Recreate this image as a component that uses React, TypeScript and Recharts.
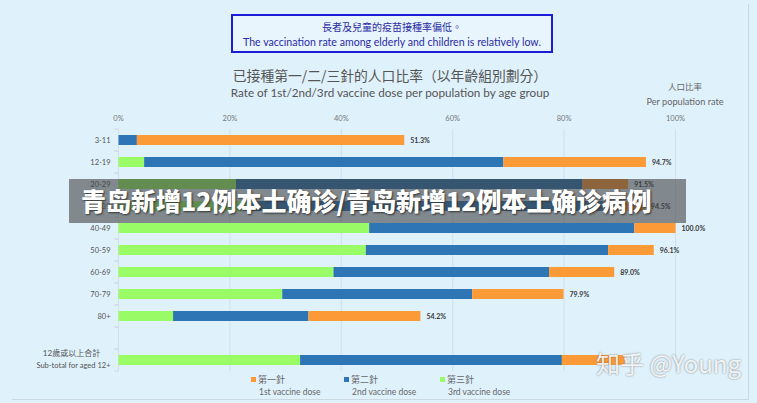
import React from 'react';
import {
  BarChart,
  Bar,
  XAxis,
  YAxis,
  CartesianGrid,
  LabelList
} from 'recharts';

const ageGroups = ['3-11', '12-19', '20-29', '30-39', '40-49', '50-59', '60-69', '70-79', '80+', ' ', 'subtotal'];
const firstDose = [51.3, 94.7, 91.5, 94.5, 100.0, 96.1, 89.0, 79.9, 54.2, null, 90.9];
const secondDose = [3.3, 69.1, 83.3, 87.0, 92.6, 87.9, 77.3, 63.5, 34.1, null, 79.6];
const thirdDose = [0, 4.6, 21.1, 24.0, 45.0, 44.4, 38.6, 29.4, 9.8, null, 32.6];
const xTicks = [0, 20, 40, 60, 80, 100];

const ORANGE = '#fd9a38';
const BLUE = '#2e75b6';
const GREEN = '#99fb66';
const BG = '#dff1fb';

// stacked segments: 3rd dose, then 2nd minus 3rd, then 1st minus 2nd
const rows = ageGroups.map((age, i) => {
  const f = firstDose[i];
  const s = secondDose[i];
  const t = thirdDose[i];
  if (f == null || s == null || t == null) {
    return { age, third: null, second: null, first: null, total: null };
  }
  return {
    age,
    third: t,
    second: +(s - t).toFixed(1),
    first: +(f - s).toFixed(1),
    total: f
  };
});

const AgeTick = (props: any) => {
  const { x, y, payload } = props;
  const axisX = x + 8;
  const marks = (
    <g>
      <line x1={axisX - 4} x2={axisX} y1={y - 11} y2={y - 11} stroke="#cfd8de" />
      <line x1={axisX - 4} x2={axisX} y1={y + 11} y2={y + 11} stroke="#cfd8de" />
    </g>
  );
  if (payload.value === 'subtotal') {
    return (
      <g>
        {marks}
        <text x={x - 39} y={y - 4} textAnchor="middle" fontSize={8} fill="#555" fontFamily="Lato, 'Noto Sans CJK TC', sans-serif">
          12歲或以上合計
        </text>
        <text x={x} y={y + 8} textAnchor="end" fontSize={7.5} fill="#555" fontFamily="Lato, sans-serif">
          Sub-total for aged 12+
        </text>
      </g>
    );
  }
  return (
    <g>
      {marks}
      <text x={x} y={y} dy={3} textAnchor="end" fontSize={7.5} fill="#555" fontFamily="Lato, sans-serif">
        {payload.value}
      </text>
    </g>
  );
};

const TotalLabel = (props: any) => {
  const { x, y, width, height, index } = props;
  const v = rows[index]?.total;
  if (v == null) return null;
  return (
    <text
      x={x + width + 6}
      y={y + height / 2}
      dy={2.5}
      fontSize={7}
      fontWeight={700}
      fill="#3a3a3a"
      fontFamily="Lato, sans-serif"
    >
      {v.toFixed(1)}%
    </text>
  );
};

const legendItems = [
  { color: ORANGE, zh: '第一針', en: '1st vaccine dose', x: 251 },
  { color: BLUE, zh: '第二針', en: '2nd vaccine dose', x: 344 },
  { color: GREEN, zh: '第三針', en: '3rd vaccine dose', x: 440 }
];

const abs = (style: React.CSSProperties): React.CSSProperties => ({ position: 'absolute', ...style });

const App: React.FC = () => {
  return (
    <div
      style={{
        position: 'absolute',
        left: 0,
        top: 0,
        width: 757,
        height: 403,
        background: BG,
        overflow: 'hidden',
        fontFamily: "Lato, 'Noto Sans CJK TC', sans-serif"
      }}
    >
      <div style={abs({ left: 12, top: 4, width: 736, height: 395, borderRight: '1px solid #cdd9e0', borderBottom: '1px solid #cdd9e0' })} />

      <BarChart
        width={757}
        height={403}
        data={rows}
        layout="vertical"
        barSize={10}
        margin={{ top: 99, right: 81.5, left: 0, bottom: 32 }}
        style={{ position: 'absolute', left: 0, top: 0 }}
      >
        <CartesianGrid vertical horizontal={false} stroke="#d3dfe6" />
        <XAxis
          type="number"
          orientation="top"
          domain={[0, 100]}
          ticks={xTicks}
          tickFormatter={(v: number) => `${v}%`}
          axisLine={false}
          tickLine={false}
          height={30}
          tick={{ fontSize: 7.5, fill: '#777', fontFamily: 'Lato, sans-serif' }}
        />
        <YAxis
          type="category"
          dataKey="age"
          width={118.5}
          axisLine={false}
          tickLine={false}
          interval={0}
          tick={<AgeTick />}
        />
        <Bar dataKey="third" stackId="a" fill={GREEN} isAnimationActive={false} />
        <Bar dataKey="second" stackId="a" fill={BLUE} isAnimationActive={false} />
        <Bar dataKey="first" stackId="a" fill={ORANGE} isAnimationActive={false}>
          <LabelList dataKey="total" content={<TotalLabel />} />
        </Bar>
      </BarChart>

      {/* headline box */}
      <div
        style={abs({
          left: 231,
          top: 14,
          width: 318,
          height: 35,
          border: '2px solid #1c1cd8',
          background: '#e8f5fd',
          textAlign: 'center',
          color: '#2b2ba6'
        })}
      >
        <div style={{ fontSize: 10, lineHeight: '13px', marginTop: 4, fontFamily: "'Noto Sans CJK TC', sans-serif" }}>
          長者及兒童的疫苗接種率偏低。
        </div>
        <div style={{ fontSize: 10.6, lineHeight: '14px', marginTop: 2 }}>
          The vaccination rate among elderly and children is relatively low.
        </div>
      </div>

      <div style={abs({ left: 160, width: 460, top: 66, textAlign: 'center', fontSize: 13.8, lineHeight: '18px', color: '#555', fontFamily: "'Noto Sans CJK TC', sans-serif" })}>
        已接種第一/二/三針的人口比率（以年齡組別劃分）
      </div>
      <div style={abs({ left: 160, width: 460, top: 85, textAlign: 'center', fontSize: 11.7, lineHeight: '15px', color: '#555' })}>
        Rate of 1st/2nd/3rd vaccine dose per population by age group
      </div>

      <div style={abs({ left: 625, width: 120, top: 81, textAlign: 'center', fontSize: 8.5, lineHeight: '11px', color: '#666', fontFamily: "'Noto Sans CJK TC', sans-serif" })}>
        人口比率
      </div>
      <div style={abs({ left: 625, width: 120, top: 96, textAlign: 'center', fontSize: 9.2, lineHeight: '12px', color: '#666' })}>
        Per population rate
      </div>

      {legendItems.map((item) => (
        <div key={item.en} style={abs({ left: item.x, top: 373, color: '#666' })}>
          <div style={{ display: 'flex', alignItems: 'center', height: 13 }}>
            <span style={{ display: 'inline-block', width: 5, height: 5, background: item.color, marginRight: 2 }} />
            <span style={{ fontSize: 9, fontFamily: "'Noto Sans CJK TC', sans-serif" }}>{item.zh}</span>
          </div>
          <div style={{ fontSize: 8.5, lineHeight: '12px', marginLeft: 8 }}>{item.en}</div>
        </div>
      ))}

      {/* overlay banner */}
      <div
        style={abs({
          left: 69,
          top: 179,
          width: 617,
          height: 44,
          background: 'rgba(60, 62, 64, 0.58)'
        })}
      />
      <div
        style={abs({
          left: 81,
          top: 183,
          fontSize: 25,
          lineHeight: '34px',
          fontWeight: 900,
          color: '#ffffff',
          whiteSpace: 'nowrap',
          textShadow: '1px 1px 2px #333',
          fontFamily: "'Noto Sans CJK SC', sans-serif"
        })}
      >
        青岛新增12例本土确诊/青岛新增12例本土确诊病例
      </div>

      {/* watermark */}
      <div
        style={abs({
          left: 596,
          top: 347,
          fontSize: 24,
          lineHeight: '32px',
          color: 'rgba(255,255,255,0.9)',
          whiteSpace: 'nowrap',
          textShadow: '0 0 2px rgba(70,70,70,0.7)',
          fontFamily: "'Noto Sans CJK SC', sans-serif"
        })}
      >
        知乎 @Young
      </div>
    </div>
  );
};

export default App;
